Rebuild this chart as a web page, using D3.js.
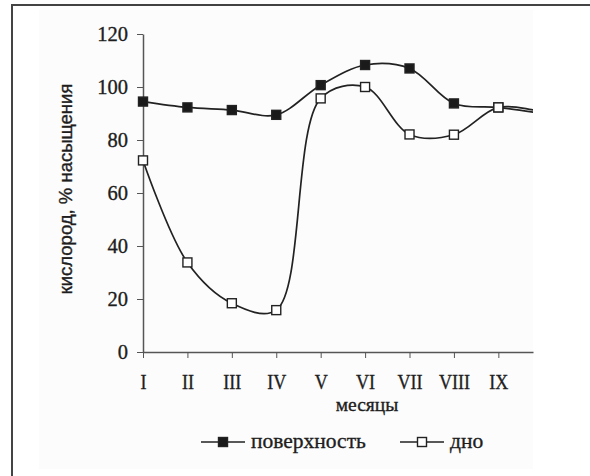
<!DOCTYPE html>
<html>
<head>
<meta charset="utf-8">
<script src="https://cdn.jsdelivr.net/npm/d3@7"></script>
<style>
  body { margin: 0; background: #fff; }
  svg text { font-family: "Liberation Serif", "Times New Roman", serif; fill: #1e1e1e; stroke: #1e1e1e; stroke-width: 0.35px; }
  svg text.sans { font-family: "Liberation Sans", Arial, sans-serif; }
</style>
</head>
<body>
<div id="chart"></div>
<script>
// months on the x axis
const months = ['I', 'II', 'III', 'IV', 'V', 'VI', 'VII', 'VIII', 'IX']
// oxygen, % saturation (last value continues past IX and is clipped)
const surface = [94.5, 92.3, 91.3, 89.5, 100.7, 108.3, 107, 93.8, 92.3, 90]
const bottom = [72.3, 33.8, 18.4, 15.8, 95.7, 100, 82.1, 82, 92.3, 90.5]
const yTicks = [0, 20, 40, 60, 80, 100, 120]

const width = 590
const height = 476
const margin = { top: 34, right: 57, bottom: 124, left: 143 }

const svg = d3.select('#chart')
  .append('svg')
  .attr('width', width)
  .attr('height', height)

// frame (left + top only)
svg.append('rect')
  .attr('x', 39).attr('y', 10)
  .attr('width', 494).attr('height', 459)
  .attr('fill', '#fcfcfc')
svg.append('path')
  .attr('d', `M12,${height}V5H${width}`)
  .attr('fill', 'none')
  .attr('stroke', '#444')
  .attr('stroke-width', 2)

const x = d3.scaleLinear()
  .domain([0, 8.78])
  .range([margin.left, width - margin.right])
const y = d3.scaleLinear()
  .domain([0, 120])
  .range([height - margin.bottom, margin.top])

svg.append('clipPath').attr('id', 'plot')
  .append('rect')
  .attr('x', x(0) - 10).attr('y', 0)
  .attr('width', x(8.78) - x(0) + 10).attr('height', height)

// y axis
const yAxis = svg.append('g')
  .attr('transform', `translate(${x(0)},0)`)
  .call(d3.axisLeft(y).tickValues(yTicks).tickSize(6).tickPadding(9).tickSizeOuter(0))
yAxis.select('.domain').attr('stroke', '#555').attr('stroke-width', 1.5)
yAxis.selectAll('.tick line').attr('stroke', '#555')
yAxis.selectAll('.tick text').style('font-size', '20.5px')

// x axis
const xAxis = svg.append('g')
  .attr('transform', `translate(0,${y(0)})`)
  .call(d3.axisBottom(x).tickValues(d3.range(months.length)).tickFormat(i => months[i])
    .tickSize(6).tickPadding(16).tickSizeOuter(0))
xAxis.select('.domain').attr('stroke', '#555').attr('stroke-width', 1.5)
xAxis.selectAll('.tick line').attr('stroke', '#555')
xAxis.selectAll('.tick text')
  .style('font-size', '20.5px')
  .attr('transform', 'scale(0.88,1)')

// axis titles
svg.append('text')
  .attr('x', 367).attr('y', 411)
  .attr('text-anchor', 'middle')
  .style('font-size', '19.5px')
  .text('месяцы')
svg.append('text')
  .attr('class', 'sans')
  .attr('transform', 'translate(72,189) rotate(-90)')
  .attr('text-anchor', 'middle')
  .style('font-size', '18.5px')
  .text('кислород, % насыщения')

const line = d3.line()
  .x((d, i) => x(i))
  .y(d => y(d))
  .curve(d3.curveCatmullRom.alpha(0.5))

const series = [
  { name: 'поверхность', values: surface, fill: '#1a1a1a' },
  { name: 'дно', values: bottom, fill: '#fff' }
]

const plot = svg.append('g').attr('clip-path', 'url(#plot)')
series.forEach(s => {
  plot.append('path')
    .attr('d', line(s.values))
    .attr('fill', 'none')
    .attr('stroke', '#222')
    .attr('stroke-width', 1.7)
})
series.forEach(s => {
  plot.selectAll(null)
    .data(s.values.slice(0, months.length))
    .enter()
    .append('rect')
    .attr('x', (d, i) => x(i) - 4.5)
    .attr('y', d => y(d) - 4.5)
    .attr('width', 9).attr('height', 9)
    .attr('fill', s.fill)
    .attr('stroke', '#222')
    .attr('stroke-width', 1.4)
})

// legend
const legendPos = [201, 400]
const legend = svg.append('g')
series.forEach((s, i) => {
  const g = legend.append('g').attr('transform', `translate(${legendPos[i]},442)`)
  g.append('line')
    .attr('x1', 0).attr('x2', 44)
    .attr('stroke', '#222').attr('stroke-width', 1.7)
  g.append('rect')
    .attr('x', 17.5).attr('y', -4.5)
    .attr('width', 9).attr('height', 9)
    .attr('fill', s.fill)
    .attr('stroke', '#222').attr('stroke-width', 1.4)
  g.append('text')
    .attr('x', 50).attr('y', 6)
    .style('font-size', '21.5px')
    .text(s.name)
})
</script>
</body>
</html>
